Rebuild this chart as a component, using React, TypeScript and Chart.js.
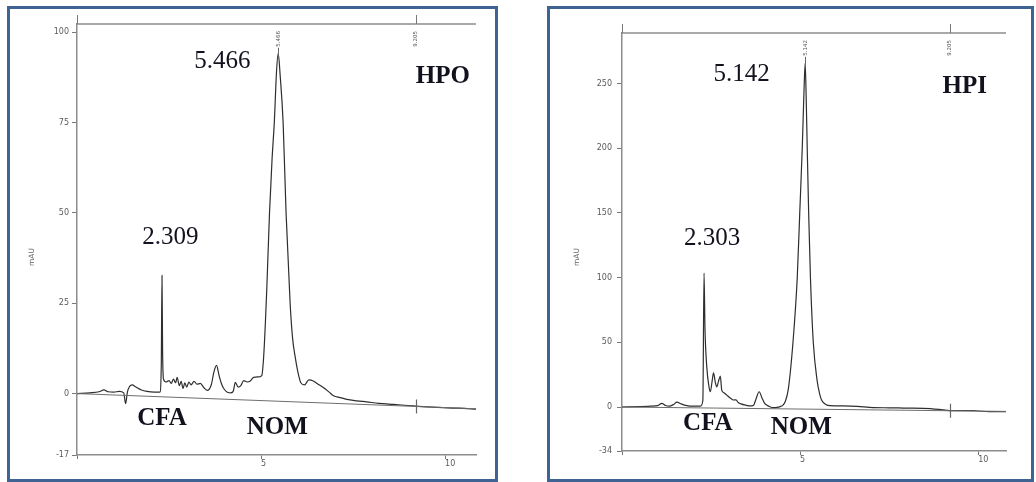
import React, { useEffect, useRef } from "react";
import { Chart, registerables } from "chart.js";

Chart.register(...registerables);

// ---- HPO fraction: retention time (min) and absorbance (mAU) ----
const hpoTime = [
  0, 0.35, 0.6, 0.73, 0.85, 1.0, 1.15, 1.27, 1.32, 1.37, 1.43, 1.5, 1.6, 1.75, 1.9, 2.1,
  2.25, 2.29, 2.309, 2.325, 2.35, 2.42, 2.5, 2.56, 2.62, 2.68, 2.72, 2.78, 2.83, 2.88,
  2.93, 2.98, 3.04, 3.1, 3.18, 3.26, 3.35, 3.45, 3.55, 3.65, 3.72, 3.79, 3.86, 3.93, 4.0,
  4.1, 4.18, 4.25, 4.3, 4.38, 4.45, 4.53, 4.62, 4.7, 4.8, 4.92, 5.02, 5.07, 5.12, 5.16,
  5.23, 5.3, 5.36, 5.42, 5.466, 5.52, 5.6, 5.68, 5.79, 5.86, 5.93, 6.0, 6.08, 6.18, 6.3,
  6.42, 6.55, 6.7, 6.85, 6.97, 7.15, 7.33, 7.6, 7.87, 8.2, 8.6, 9.0, 9.4, 9.8, 10.2, 10.5,
  10.84,
];
const hpoSignal = [
  0, 0.2, 0.5, 1.0, 0.5, 0.4, 0.6, 0.2, -2.8, 0.5, 2.0, 2.4, 1.8, 1.0, 0.6, 0.4,
  0.4, 8, 32.7, 12, 4, 3.2, 3.6, 2.8, 4.0, 3.0, 4.5, 2.2, 3.4, 1.4,
  3.0, 1.8, 3.2, 2.4, 3.4, 2.6, 2.8, 1.6, 0.9, 2.5, 6.0, 7.8, 5.0, 2.6, 1.2,
  0.3, 0.2, 0.8, 3.1, 1.8, 2.2, 3.6, 3.2, 3.4, 4.5, 4.6, 5.0, 10, 20, 30,
  50, 65, 75, 89, 94.2, 88, 75, 50, 25, 15, 10, 6, 3, 2.4, 3.8,
  3.5, 2.6, 1.6, 0.4, -0.6, -1.1, -1.6, -2.0, -2.3, -2.7, -3.0, -3.3, -3.6, -3.8, -4.0, -4.1,
  -4.3,
];
const hpoBaselineTime = [0, 10.84];
const hpoBaselineSignal = [0, -4.2];
const hpoPeakTimes = [2.309, 5.466];
const hpoYTicks = [-17, 0, 25, 50, 75, 100];

// ---- HPI fraction ----
const hpiTime = [
  0, 0.5, 0.8, 1.0, 1.12, 1.22, 1.32, 1.45, 1.54, 1.65, 1.82, 2.0, 2.2, 2.27, 2.303, 2.33,
  2.38, 2.44, 2.48, 2.53, 2.57, 2.62, 2.66, 2.71, 2.76, 2.8, 2.86, 2.94, 3.04, 3.13, 3.2,
  3.26, 3.36, 3.46, 3.6, 3.69, 3.76, 3.85, 3.93, 4.0, 4.06, 4.15, 4.25, 4.35, 4.44, 4.52,
  4.58, 4.67, 4.8, 4.92, 4.99, 5.06, 5.11, 5.142, 5.17, 5.2, 5.24, 5.29, 5.37, 5.48, 5.55,
  5.61, 5.72, 5.84, 6.2, 6.6, 7.05, 7.5, 8.0, 8.46, 8.9, 9.2, 9.6, 9.86, 10.1, 10.3, 10.78,
];
const hpiSignal = [
  0, 0.3, 0.6, 1.0, 2.8, 1.2, 0.6, 2.0, 3.8, 2.5, 1.0, 0.6, 0.6, 5, 103.5, 60,
  31, 16, 11.8, 20, 26.4, 19, 15.5, 20, 23.8, 13, 11, 9.2, 7, 5.4, 5.5,
  3.5, 2.2, 1.5, 0.8, 1.2, 6, 11.8, 7, 3, 1.5, 0.2, -0.5, -0.3, 0.3, 1.5,
  4, 14, 50, 100, 150, 200, 245, 265.6, 240, 200, 150, 100, 50, 20, 10,
  5, 2, 1, 0.8, 0.5, -0.5, -0.6, -0.9, -1.0, -1.8, -2.8, -2.8, -2.8, -3.3, -3.5, -3.5,
];
const hpiBaselineTime = [0, 10.78];
const hpiBaselineSignal = [0, -3.4];
const hpiPeakTimes = [2.303, 5.142];
const hpiYTicks = [-34, 0, 50, 100, 150, 200, 250];

const timeTicks = [0, 5, 10];
const baselineEventTime = 9.205;

type Note = { text: string; x: number; y: number; bold: boolean };

type PanelSpec = {
  time: number[];
  signal: number[];
  baseTime: number[];
  baseSignal: number[];
  peakTimes: number[];
  yTicks: number[];
  yMin: number;
  yMax: number;
  xMax: number;
  notes: Note[];
  box: { left: number; top: number; width: number; height: number };
  yAxisWidth: number;
  xAxisHeight: number;
  padTop: number;
  padRight: number;
  yLabelPad: number;
  unitY: number;
};

const INK = "#12121e";
const AXIS = "#8c8c8c";
const TICK_TEXT = "#5a5a5a";

const panels: PanelSpec[] = [
  {
    time: hpoTime,
    signal: hpoSignal,
    baseTime: hpoBaselineTime,
    baseSignal: hpoBaselineSignal,
    peakTimes: hpoPeakTimes,
    yTicks: hpoYTicks,
    yMin: -17,
    yMax: 102.3,
    xMax: 10.84,
    notes: [
      { text: hpoPeakTimes[1].toFixed(3), x: 3.95, y: 91.9, bold: false },
      { text: "HPO", x: 9.94, y: 87.7, bold: true },
      { text: hpoPeakTimes[0].toFixed(3), x: 2.54, y: 43.1, bold: false },
      { text: "CFA", x: 2.31, y: -6.85, bold: true },
      { text: "NOM", x: 5.44, y: -9.3, bold: true },
    ],
    box: { left: 7, top: 6, width: 491, height: 476 },
    yAxisWidth: 67,
    xAxisHeight: 24,
    padTop: 15,
    padRight: 19,
    yLabelPad: 3,
    unitY: 248,
  },
  {
    time: hpiTime,
    signal: hpiSignal,
    baseTime: hpiBaselineTime,
    baseSignal: hpiBaselineSignal,
    peakTimes: hpiPeakTimes,
    yTicks: hpiYTicks,
    yMin: -34,
    yMax: 289,
    xMax: 10.78,
    notes: [
      { text: hpiPeakTimes[1].toFixed(3), x: 3.36, y: 256.6, bold: false },
      { text: "HPI", x: 9.62, y: 248, bold: true },
      { text: hpiPeakTimes[0].toFixed(3), x: 2.53, y: 130.6, bold: false },
      { text: "CFA", x: 2.41, y: -12.4, bold: true },
      { text: "NOM", x: 5.03, y: -15.5, bold: true },
    ],
    box: { left: 547, top: 6, width: 487, height: 476 },
    yAxisWidth: 72,
    xAxisHeight: 28,
    padTop: 24,
    padRight: 25,
    yLabelPad: 5,
    unitY: 248,
  },
];

const BORDER = 3;

function makeOverlay(spec: PanelSpec) {
  return {
    id: "chromOverlay",
    afterDatasetsDraw(chart: any) {
      const { ctx, chartArea: a } = chart;
      const xs = chart.scales.x;
      const ys = chart.scales.y;
      ctx.save();

      // upper frame line
      ctx.strokeStyle = AXIS;
      ctx.lineWidth = 1.5;
      ctx.beginPath();
      ctx.moveTo(a.left, a.top);
      ctx.lineTo(a.right, a.top);
      ctx.stroke();

      // event ticks above the frame (injection and baseline event)
      ctx.strokeStyle = "#777";
      ctx.lineWidth = 1;
      for (const t of [0, baselineEventTime]) {
        const px = Math.round(xs.getPixelForValue(t)) + 0.5;
        ctx.beginPath();
        ctx.moveTo(px, a.top - 9);
        ctx.lineTo(px, a.top);
        ctx.stroke();
      }

      // retention-time labels hanging under the frame
      ctx.fillStyle = "#555";
      ctx.font = '5.5px "DejaVu Sans"';
      ctx.textAlign = "right";
      ctx.textBaseline = "middle";
      const topLabels = [
        { t: spec.peakTimes[1], leader: true },
        { t: baselineEventTime, leader: false },
      ];
      for (const lbl of topLabels) {
        const px = xs.getPixelForValue(lbl.t);
        const startY = a.top + 7;
        const text = lbl.t.toFixed(3);
        const w = ctx.measureText(text).width;
        ctx.save();
        ctx.translate(px, startY);
        ctx.rotate(-Math.PI / 2);
        ctx.fillText(text, 0, 0);
        ctx.restore();
        if (lbl.leader) {
          ctx.strokeStyle = "#666";
          ctx.beginPath();
          ctx.moveTo(Math.round(px) + 0.5, startY + w + 1);
          ctx.lineTo(Math.round(px) + 0.5, startY + w + 11);
          ctx.stroke();
        }
      }

      // baseline event marker crossing the drawn baseline
      const [t0, t1] = spec.baseTime;
      const [s0, s1] = spec.baseSignal;
      const sAtEvent = s0 + ((s1 - s0) * (baselineEventTime - t0)) / (t1 - t0);
      const ex = Math.round(xs.getPixelForValue(baselineEventTime)) + 0.5;
      const ey = ys.getPixelForValue(sAtEvent);
      ctx.strokeStyle = "#666";
      ctx.lineWidth = 1.2;
      ctx.beginPath();
      ctx.moveTo(ex, ey - 7);
      ctx.lineTo(ex, ey + 7);
      ctx.stroke();

      // axis unit
      ctx.save();
      ctx.fillStyle = "#666";
      ctx.font = '7.5px "DejaVu Sans"';
      ctx.textAlign = "center";
      ctx.textBaseline = "middle";
      ctx.translate(a.left - 45, spec.unitY);
      ctx.rotate(-Math.PI / 2);
      ctx.fillText("mAU", 0, 0);
      ctx.restore();

      // peak and fraction annotations
      ctx.fillStyle = INK;
      ctx.textAlign = "center";
      ctx.textBaseline = "middle";
      for (const n of spec.notes) {
        ctx.font = `${n.bold ? "bold " : ""}25px "Liberation Serif"`;
        ctx.fillText(n.text, xs.getPixelForValue(n.x), ys.getPixelForValue(n.y));
      }

      ctx.restore();
    },
  };
}

function ChromPanel({ spec }: { spec: PanelSpec }) {
  const ref = useRef<HTMLCanvasElement | null>(null);
  const w = spec.box.width - 2 * BORDER;
  const h = spec.box.height - 2 * BORDER;

  useEffect(() => {
    if (!ref.current) return;
    const trace = spec.time.map((t, i) => ({ x: t, y: spec.signal[i] }));
    const base = spec.baseTime.map((t, i) => ({ x: t, y: spec.baseSignal[i] }));
    const tickFont = { family: '"DejaVu Sans"', size: 8 };

    const chart = new Chart(ref.current, {
      type: "line",
      data: {
        datasets: [
          {
            data: base,
            borderColor: "#6e6e6e",
            borderWidth: 1,
            pointRadius: 0,
            fill: false,
          },
          {
            data: trace,
            borderColor: "#2e2e2e",
            borderWidth: 1.2,
            pointRadius: 0,
            fill: false,
            cubicInterpolationMode: "monotone",
          },
        ],
      },
      options: {
        animation: false,
        responsive: false,
        events: [],
        parsing: false,
        layout: { padding: { top: spec.padTop, right: spec.padRight, left: 0, bottom: 0 } },
        plugins: { legend: { display: false }, tooltip: { enabled: false } },
        scales: {
          x: {
            type: "linear",
            min: 0,
            max: spec.xMax,
            afterBuildTicks: (s: any) => {
              s.ticks = timeTicks.map((v) => ({ value: v }));
            },
            afterFit: (s: any) => {
              s.height = spec.xAxisHeight;
            },
            grid: {
              display: true,
              drawOnChartArea: false,
              drawTicks: true,
              tickLength: 4,
              color: "#777",
            },
            border: { display: true, color: AXIS, width: 1.5 },
            ticks: {
              align: "start",
              padding: 0,
              maxRotation: 0,
              autoSkip: false,
              color: TICK_TEXT,
              font: tickFont,
              callback: (v: any) => (v === 0 ? "" : String(v)),
            },
          },
          y: {
            type: "linear",
            min: spec.yMin,
            max: spec.yMax,
            afterBuildTicks: (s: any) => {
              s.ticks = spec.yTicks.map((v) => ({ value: v }));
            },
            afterFit: (s: any) => {
              s.width = spec.yAxisWidth;
            },
            grid: {
              display: true,
              drawOnChartArea: false,
              drawTicks: true,
              tickLength: 5,
              color: "#777",
            },
            border: { display: true, color: AXIS, width: 1.5 },
            ticks: {
              padding: spec.yLabelPad,
              autoSkip: false,
              color: TICK_TEXT,
              font: tickFont,
              callback: (v: any) => String(v),
            },
          },
        },
      } as any,
      plugins: [makeOverlay(spec)],
    });
    return () => chart.destroy();
  }, [spec]);

  return (
    <div
      style={{
        position: "absolute",
        left: spec.box.left,
        top: spec.box.top,
        width: spec.box.width,
        height: spec.box.height,
        boxSizing: "border-box",
        border: `${BORDER}px solid #3f6494`,
        background: "#fff",
      }}
    >
      <canvas ref={ref} width={w} height={h} style={{ display: "block", width: w, height: h }} />
    </div>
  );
}

export default function App() {
  // panels are placed against the page's top-left corner, independent of the body margin
  return (
    <div style={{ position: "absolute", left: 0, top: 0, width: 1036, height: 482 }}>
      {panels.map((p, i) => (
        <ChromPanel key={i} spec={p} />
      ))}
    </div>
  );
}
